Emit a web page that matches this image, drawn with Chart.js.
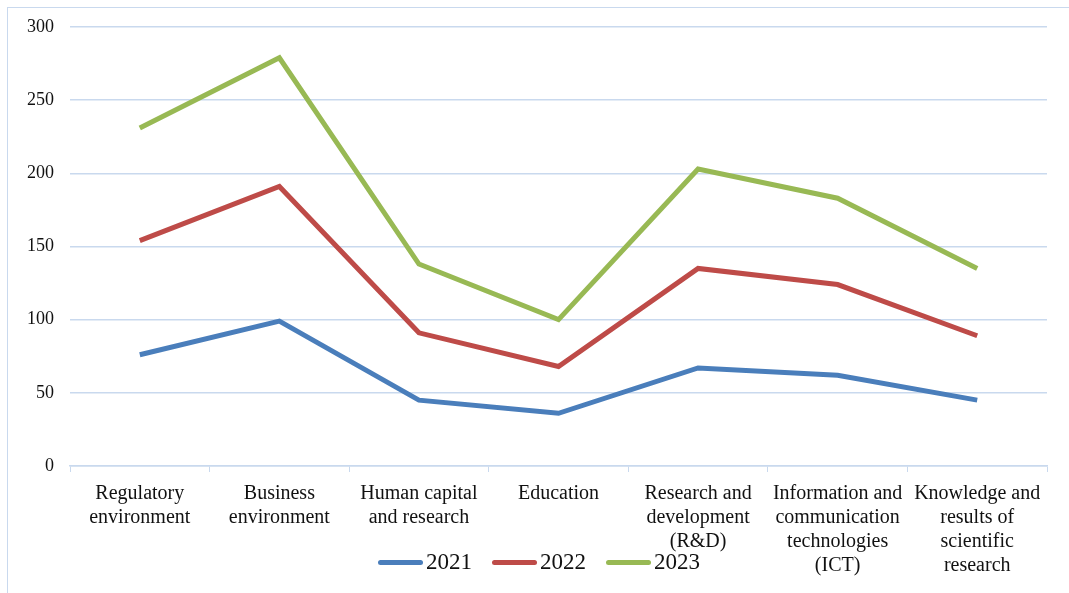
<!DOCTYPE html>
<html>
<head>
<meta charset="utf-8">
<script src="https://cdn.jsdelivr.net/npm/chart.js@4"></script>
<style>
  html, body { margin: 0; padding: 0; background: #fff; }
  #wrap { position: relative; width: 1069px; height: 593px; overflow: hidden; }
  #frame { position: absolute; left: 7px; top: 7px; width: 1080px; height: 600px;
           border: 1px solid #c9d9ee; box-sizing: border-box; }
  #legend { position: absolute; left: 378px; top: 549px; font-family: 'Liberation Serif', serif;
            font-size: 23px; color: #111; display: flex; align-items: center; }
  #legend span.item { display: flex; align-items: center; margin-right: 20px; }
  #legend span.swatch { display: inline-block; width: 45px; height: 5px; border-radius: 3px; margin-right: 3px; }
</style>
</head>
<body>
<div id="wrap">
  <div id="frame"></div>
  <canvas id="chart" width="1069" height="593"></canvas>
  <div id="legend"></div>
</div>
<script>
// categories
const categories = [
  ['Regulatory', 'environment'],
  ['Business', 'environment'],
  ['Human capital', 'and research'],
  ['Education'],
  ['Research and', 'development', '(R&D)'],
  ['Information and', 'communication', 'technologies', '(ICT)'],
  ['Knowledge and', 'results of', 'scientific', 'research']
];

// yearly values (stacked, as in the original)
const years = ['2021', '2022', '2023'];
const values2021 = [76, 99, 45, 36, 67, 62, 45];
const values2022 = [78, 92, 46, 32, 68, 62, 44];
const values2023 = [77, 88, 47, 32, 68, 59, 46];
const colors = ['#4a7ebb', '#be4b48', '#98b954'];

const gridColor = '#c9d9ee';
const serif = 'Liberation Serif';

const series = [values2021, values2022, values2023];

new Chart(document.getElementById('chart'), {
  type: 'line',
  data: {
    labels: categories,
    datasets: series.map((vals, i) => ({
      label: years[i],
      data: vals,
      borderColor: colors[i],
      backgroundColor: colors[i],
      borderWidth: 5,
      pointRadius: 0,
      tension: 0,
      fill: false
    }))
  },
  options: {
    responsive: false,
    animation: false,
    layout: { padding: { left: 0, right: 22, top: 27, bottom: 0 } },
    plugins: { legend: { display: false }, tooltip: { enabled: false } },
    scales: {
      x: {
        offset: true,
        grid: { offset: true, drawOnChartArea: false, drawTicks: true, tickLength: 6, color: gridColor },
        border: { display: true, color: gridColor, width: 1.5 },
        ticks: { color: '#111', font: { family: serif, size: 20, lineHeight: 1.2 }, padding: 10, maxRotation: 0, autoSkip: false },
        afterFit: s => { s.height = 593 - 466; }
      },
      y: {
        stacked: true,
        min: 0, max: 300,
        ticks: { stepSize: 50, color: '#111', font: { family: serif, size: 18 }, padding: 16 },
        grid: { color: gridColor, lineWidth: 1.5, drawTicks: false },
        border: { display: false },
        afterFit: s => { s.width = 70; }
      }
    }
  }
});

// legend drawn as html so it can sit over the category labels like the original
const legend = document.getElementById('legend');
years.forEach((y, i) => {
  const item = document.createElement('span');
  item.className = 'item';
  const sw = document.createElement('span');
  sw.className = 'swatch';
  sw.style.background = colors[i];
  item.appendChild(sw);
  item.appendChild(document.createTextNode(y));
  legend.appendChild(item);
});
</script>
</body>
</html>
